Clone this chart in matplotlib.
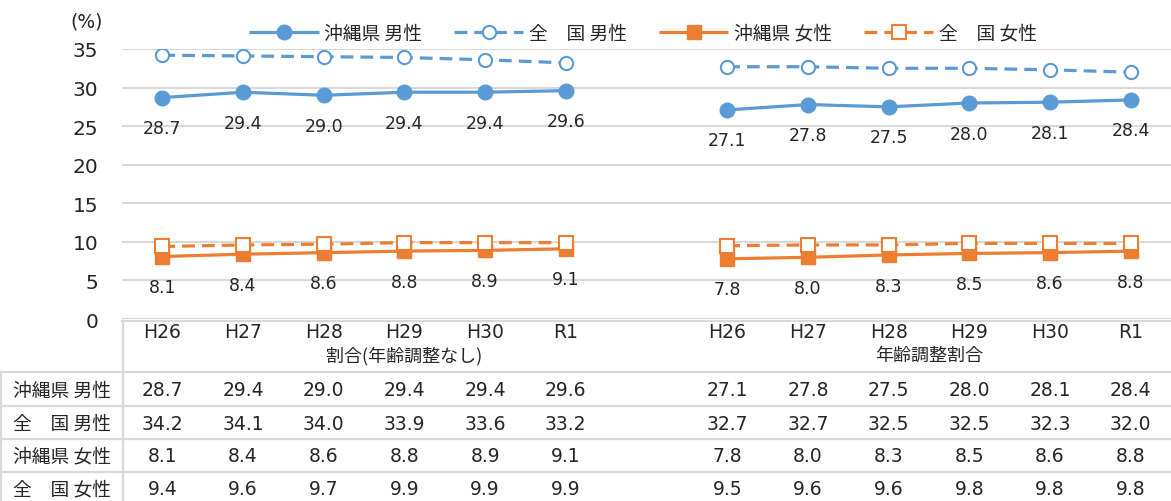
import matplotlib
matplotlib.use('Agg')
import matplotlib.pyplot as plt
from matplotlib.lines import Line2D
from matplotlib import transforms

plt.rcParams['font.family'] = ['DejaVu Sans', 'Noto Sans CJK JP']

# data
years = ['H26', 'H27', 'H28', 'H29', 'H30', 'R1']
groups = ['割合(年齢調整なし)', '年齢調整割合']
names = ['沖縄県 男性', '全\u3000国 男性', '沖縄県 女性', '全\u3000国 女性']

crude_oki_m = [28.7, 29.4, 29.0, 29.4, 29.4, 29.6]
crude_nat_m = [34.2, 34.1, 34.0, 33.9, 33.6, 33.2]
crude_oki_f = [8.1, 8.4, 8.6, 8.8, 8.9, 9.1]
crude_nat_f = [9.4, 9.6, 9.7, 9.9, 9.9, 9.9]

adj_oki_m = [27.1, 27.8, 27.5, 28.0, 28.1, 28.4]
adj_nat_m = [32.7, 32.7, 32.5, 32.5, 32.3, 32.0]
adj_oki_f = [7.8, 8.0, 8.3, 8.5, 8.6, 8.8]
adj_nat_f = [9.5, 9.6, 9.6, 9.8, 9.8, 9.8]

BLUE = '#5B9BD5'
ORANGE = '#ED7D31'
GRID = '#D9D9D9'
TXT = '#262626'
JP = ['Noto Sans CJK JP', 'DejaVu Sans']

W, H = 1171, 502
fig = plt.figure(figsize=(W / 100, H / 100), dpi=100)
ax = fig.add_axes([122 / W, 1 - 320 / H, (W - 122) / W, 270 / H])
ax.set_xlim(-0.5, 12.5)
ax.set_ylim(0, 35)

x1 = list(range(6))
x2 = list(range(7, 13))

styles = [
    dict(color=BLUE, ls='-', marker='o', ms=10.5, mfc=BLUE, mec=BLUE),
    dict(color=BLUE, ls=(0, (4, 2.2)), marker='o', ms=9.5, mfc='white', mec=BLUE, mew=1.5),
    dict(color=ORANGE, ls='-', marker='s', ms=9.5, mfc=ORANGE, mec=ORANGE),
    dict(color=ORANGE, ls=(0, (4, 2.2)), marker='s', ms=9.5, mfc='white', mec=ORANGE, mew=1.5),
]
crude = [crude_oki_m, crude_nat_m, crude_oki_f, crude_nat_f]
adj = [adj_oki_m, adj_nat_m, adj_oki_f, adj_nat_f]

handles = []
for i in range(4):
    h, = ax.plot(x1, crude[i], lw=2.3, solid_capstyle='butt', dash_capstyle='butt',
                 zorder=3 + i % 2, **styles[i])
    ax.plot(x2, adj[i], lw=2.3, solid_capstyle='butt', dash_capstyle='butt',
            zorder=3 + i % 2, **styles[i])
    handles.append(h)

# data labels below the Okinawa series
for vals, xs in [(crude_oki_m, x1), (adj_oki_m, x2), (crude_oki_f, x1), (adj_oki_f, x2)]:
    for x, v in zip(xs, vals):
        ax.annotate(f'{v:.1f}', (x, v), xytext=(0, -22), textcoords='offset points',
                    ha='center', va='center', fontsize=12.5, color=TXT)

for s in ax.spines.values():
    s.set_visible(False)
ax.set_yticks(range(0, 36, 5))
ax.yaxis.grid(True, color=GRID, lw=1.5)
ax.set_axisbelow(True)
ax.tick_params(axis='y', length=0, pad=17, labelsize=14.5, labelcolor=TXT)
ax.tick_params(axis='x', length=0, labelbottom=False)
ax.set_xticks([])

fig.text(87 / W, 1 - 22 / H, '(%)', ha='center', va='center', fontsize=13.5, color=TXT)

ax.legend(handles, names, loc='center', bbox_to_anchor=(643 / W, 1 - 34 / H),
          bbox_transform=fig.transFigure, ncol=4, frameon=False,
          prop={'family': JP, 'size': 13.5},
          handlelength=3.7, handletextpad=0.3, columnspacing=1.7, labelcolor=TXT)

# data table under the plot
tr = transforms.blended_transform_factory(ax.transData, fig.transFigure)


def fy(py):
    return 1 - py / H


def hline(x0, x1_, py):
    fig.add_artist(Line2D([x0 / W, x1_ / W], [fy(py), fy(py)], color=GRID, lw=1.6))


def vline(px, y0, y1):
    fig.add_artist(Line2D([px / W, px / W], [fy(y0), fy(y1)], color=GRID, lw=1.6))


hline(122, W, 322)
for py in [373, 407, 440, 473]:
    hline(1, W, py)
vline(122.5, 322, H)
vline(1, 373, H)

for xs in (x1, x2):
    for x, lab in zip(xs, years):
        fig.text(x, fy(333), lab, transform=tr, ha='center', va='center',
                 fontsize=13.5, color=TXT)
fig.text(3, fy(356), groups[0], transform=tr, ha='center', va='center',
         fontsize=13, color=TXT, family=JP)
fig.text(9.5, fy(356), groups[1], transform=tr, ha='center', va='center',
         fontsize=13, color=TXT, family=JP)

row_y = [391, 424, 457, 490]
for i in range(4):
    fig.text(13 / W, fy(row_y[i]), names[i], ha='left', va='center',
             fontsize=13.5, color=TXT, family=JP)
    for xs, vals in ((x1, crude[i]), (x2, adj[i])):
        for x, v in zip(xs, vals):
            fig.text(x, fy(row_y[i]), f'{v:.1f}', transform=tr, ha='center',
                     va='center', fontsize=13.5, color=TXT)

fig.savefig('out.png', dpi=100)
